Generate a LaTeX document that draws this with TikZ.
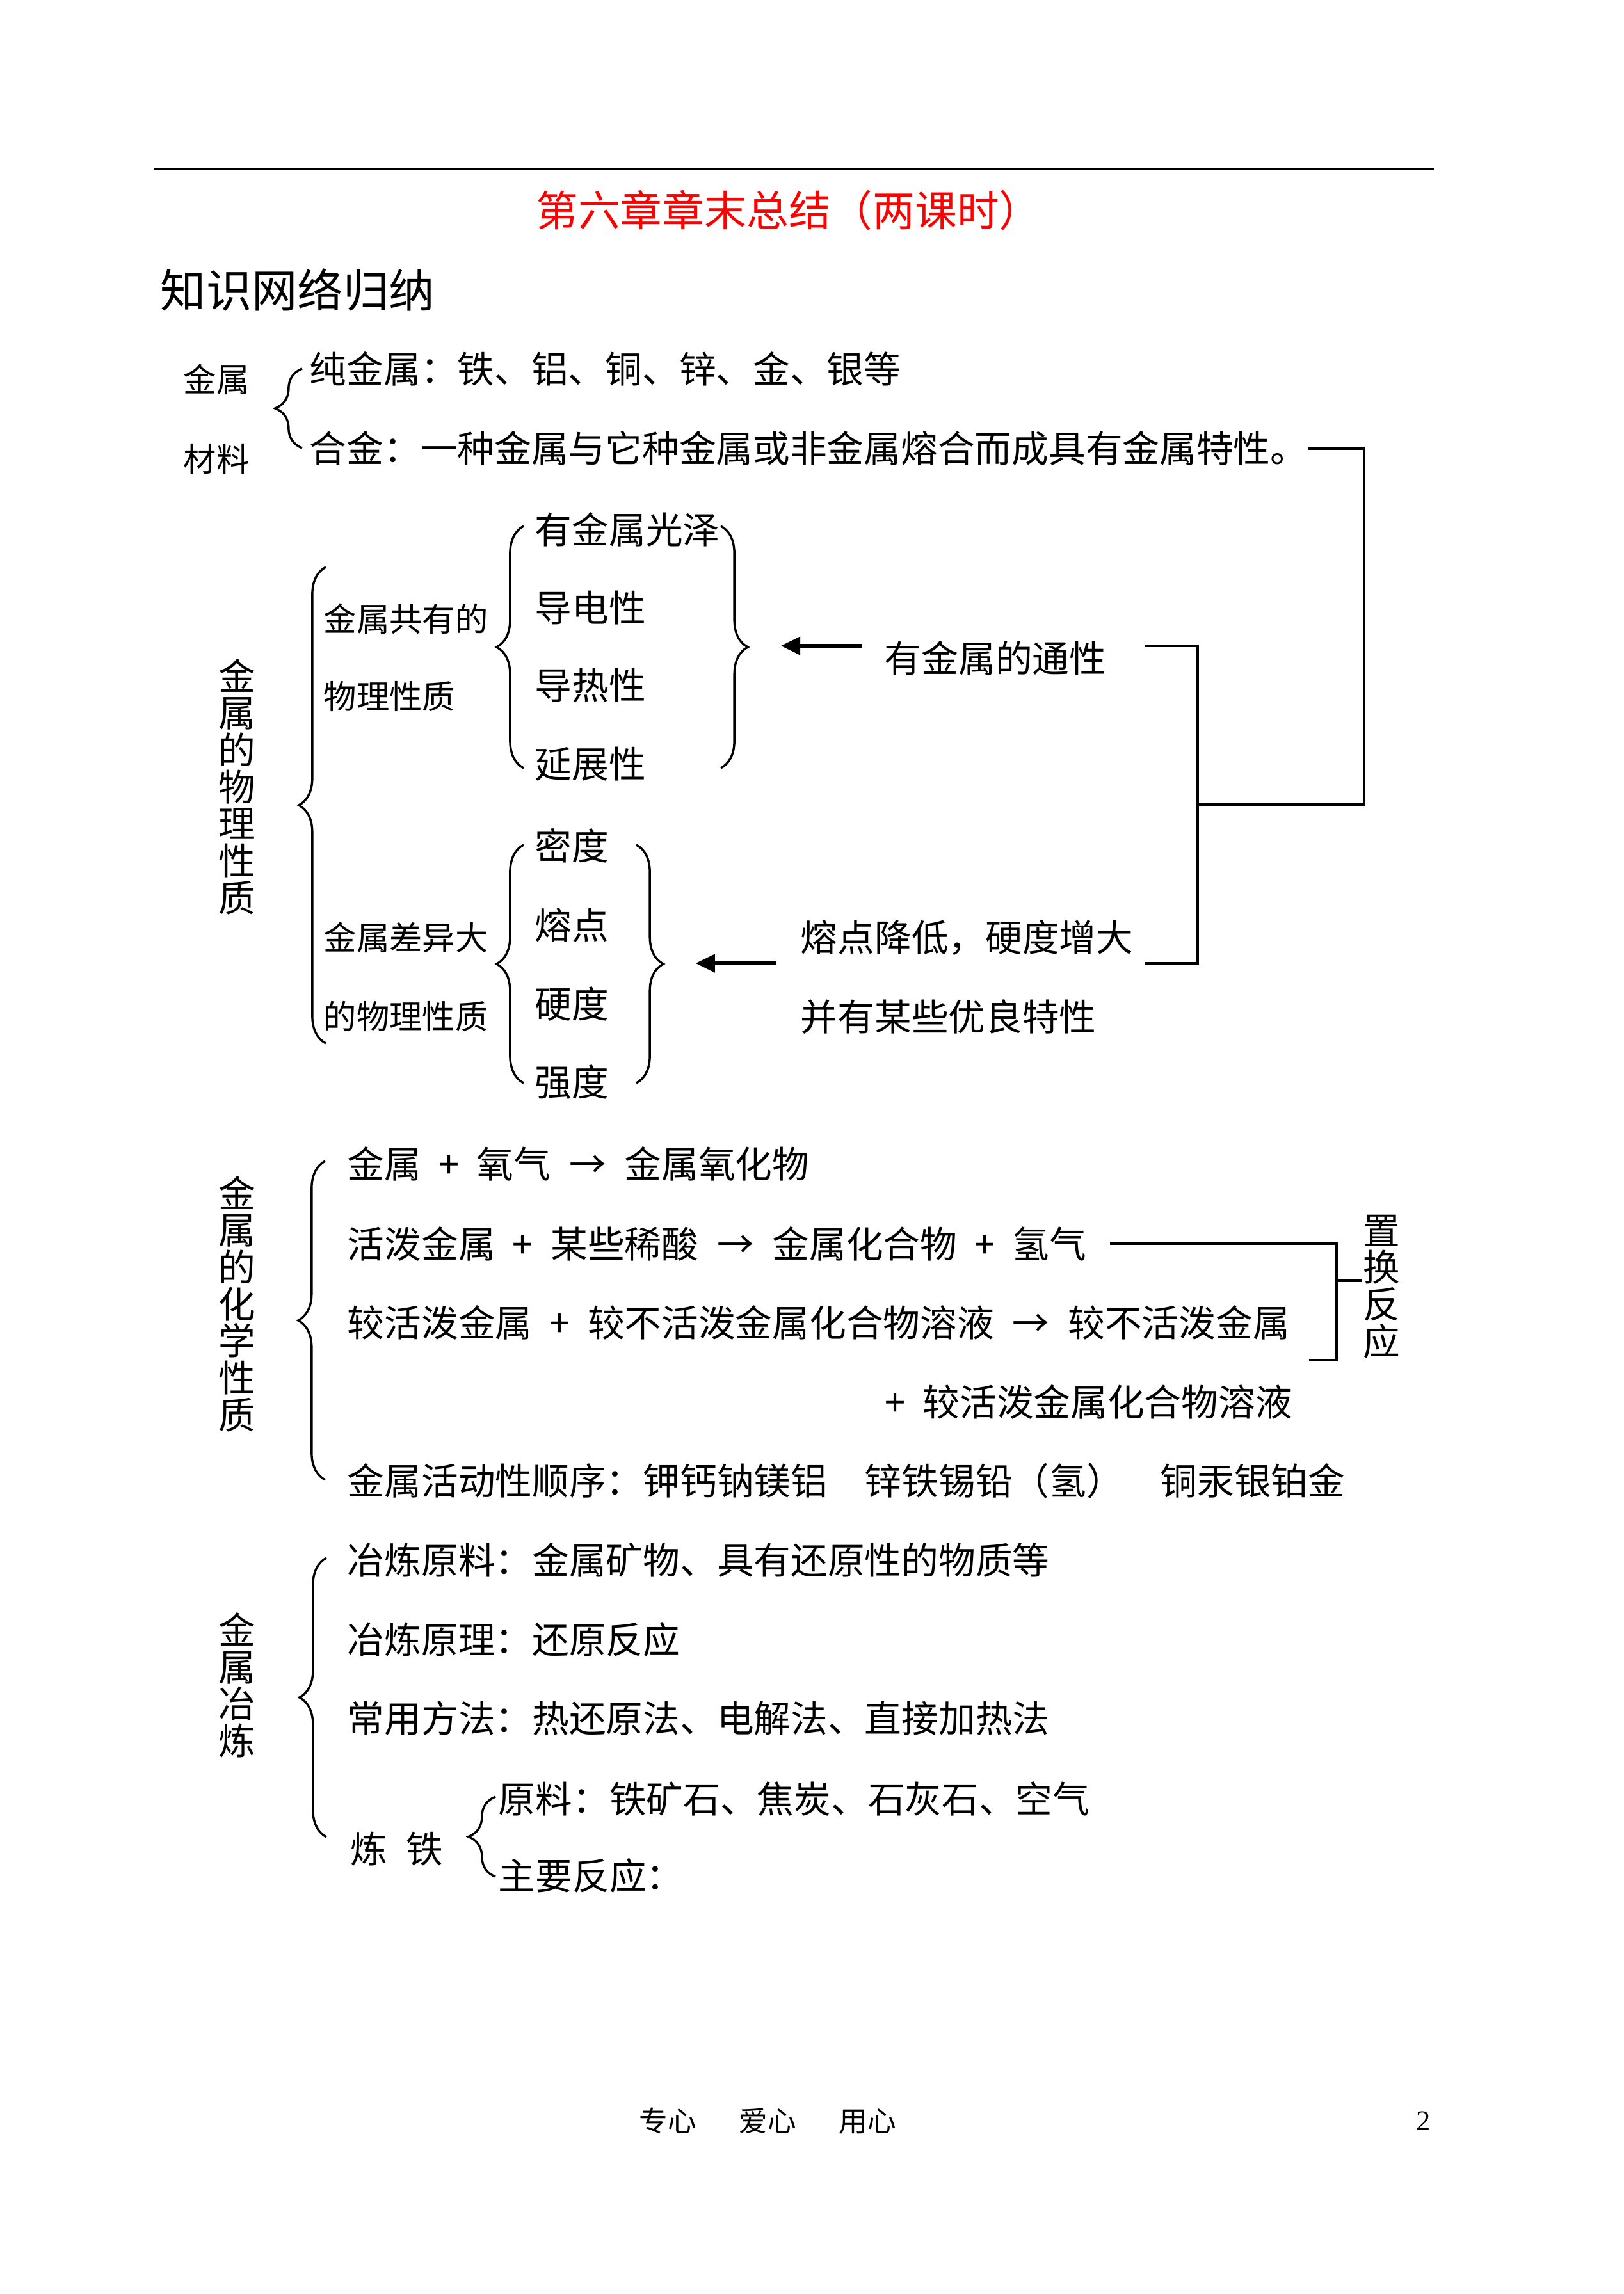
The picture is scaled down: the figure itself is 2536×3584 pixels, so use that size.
\documentclass[tikz,border=0pt]{standalone}
\usepackage{fontspec}
\setmainfont{Noto Sans CJK SC}
\newfontfamily\numfont{Liberation Serif}
\usepackage{tikz}
\usetikzlibrary{positioning,arrows.meta,decorations.pathreplacing}
\definecolor{ttlred}{HTML}{FF0000}
\newcommand{\pls}{\makebox[1.5em]{+}}
\newcommand{\yld}{\makebox[2em]{→}}
\tikzset{
  txt/.style = {anchor=west, inner sep=0pt, font=\fontsize{13.6}{16}\selectfont},
  txs/.style = {txt, font=\fontsize{12.1}{14}\selectfont},
  vtx/.style = {inner sep=0pt, align=center, font=\fontsize{13.6}{13.6}\selectfont},
  ttl/.style = {inner sep=0pt, text=ttlred, font=\fontsize{15.5}{18}\selectfont},
  hr/.style  = {line width=0.7pt},
  ln/.style  = {line width=0.8pt},
  lnb/.style = {line width=1.1pt},
  brc/.style = {decorate, decoration={brace, amplitude=3.5mm}, line width=0.8pt},
  arw/.style = {-{Triangle[length=2.5mm,width=2.3mm]}, line width=1.3pt},
}

\begin{document}
\begin{tikzpicture}[x=0.08281mm, y=-0.08281mm]
\fill[white] (0,0) rectangle (2536,3584);
\useasboundingbox (0,0) rectangle (2536,3584);

% page head
\draw[hr] (240,264) -- (2240,264);
\node[ttl] (title) at (1232,329) {第六章章末总结（两课时）};
\node[txt, font=\fontsize{16.8}{20}\selectfont] (head) at (250,453) {知识网络归纳};

% metal materials
\node[txs] (mat1) at (286,593) {金属};
\node[txs] (mat2) at (286,717) {材料};
\node[txt] (pure)  at (483,576) {纯金属：铁、铝、铜、锌、金、银等};
\node[txt] (alloy) at (483,701) {合金：一种金属与它种金属或非金属熔合而成具有金属特性。};
\draw[brc] (472,700) -- (472,576);

% physical properties
\node[vtx] (phys) at (370,1229) {金\\属\\的\\物\\理\\性\\质};
\draw[brc] (509,1630) -- (509,886);
\node[txs] (comm1) at (505,967)  {金属共有的};
\node[txs] (comm2) at (505,1088) {物理性质};
\node[txs] (diff1) at (505,1465) {金属差异大};
\node[txs] (diff2) at (505,1588) {的物理性质};

\foreach \w/\y [count=\i] in {有金属光泽/827, 导电性/950, 导热性/1071, 延展性/1194}
  \node[txt] (pc\i) at (835,\y) {\w};
\foreach \w/\y [count=\i] in {密度/1321, 熔点/1445, 硬度/1568, 强度/1691}
  \node[txt] (pd\i) at (835,\y) {\w};

\draw[brc] (818,1200) -- (818,822);
\draw[brc] (1126,822) -- (1126,1200);
\draw[brc] (818,1692) -- (818,1320);
\draw[brc] (994,1320) -- (994,1692);
\coordinate (tipA) at (1168,1009);
\coordinate (tipB) at (1036,1505);

\node[txt] (common) at (1381,1028) {有金属的通性};
\node[txt] (alw1)   at (1250,1465) {熔点降低，硬度增大};
\node[txt] (alw2)   at (1250,1588) {并有某些优良特性};

\draw[arw] ([shift={(-34,-19)}]common.west) -- ([xshift=4.3mm]tipA);
\draw[arw] ([shift={(-37,40)}]alw1.west) -- ([xshift=4.2mm]tipB);

% right hand connectors
\coordinate (jv1) at (1871,1009);
\coordinate (jv2) at (1871,1505);
\coordinate (jm)  at (1871,1257);
\coordinate (jr)  at (2131,1257);
\draw[ln] (alloy.east) -| (jr) -- (jm);
\draw[ln] ([shift={(59,-19)}]common.east) -- (jv1) -- (jv2) -- ([shift={(17,40)}]alw1.east);

% chemical properties
\node[vtx] (chem) at (370,2037) {金\\属\\的\\化\\学\\性\\质};
\draw[brc] (508,2312) -- (508,1814);
\node[txt] (cr1) at (542,1818) {金属\pls 氧气\yld 金属氧化物};
\node[txt] (cr2) at (542,1943) {活泼金属\pls 某些稀酸\yld 金属化合物\pls 氢气};
\node[txt] (cr3) at (542,2066) {较活泼金属\pls 较不活泼金属化合物溶液\yld 较不活泼金属};
\node[txt] (cr4) at (1383,2190) {\makebox[.5em]{+}\hspace{.5em}较活泼金属化合物溶液};
\node[txt] (cr5) at (542,2314) {金属活动性顺序：钾钙钠镁铝　锌铁锡铅（氢）　铜汞银铂金};

\node[vtx] (swap) at (2158,2010) {置\\换\\反\\应};
\coordinate (zb)  at (2088,2125);
\coordinate (zbe) at (2045,2125);
\coordinate (zm)  at (2088,2001);
\draw[lnb] ([xshift=3mm]cr2.east) -| (zb) -- (zbe);
\draw[lnb] (zm) -- (zm -| swap.west);

% metallurgy
\node[vtx] (smelt) at (370,2633) {金\\属\\冶\\炼};
\draw[brc] (510,2870) -- (510,2434);
\node[txt] (sm1) at (542,2437) {冶炼原料：金属矿物、具有还原性的物质等};
\node[txt] (sm2) at (542,2562) {冶炼原理：还原反应};
\node[txt] (sm3) at (542,2685) {常用方法：热还原法、电解法、直接加热法};
\node[txt] (iron) at (547,2889) {炼\hspace{.5em}铁};
\draw[brc] (774,2932) -- (774,2807);
\node[txt] (ir1) at (778,2810) {原料：铁矿石、焦炭、石灰石、空气};
\node[txt] (ir2) at (778,2931) {主要反应：};

% page foot
\node[txt, font=\fontsize{10.5}{12}\selectfont] (foot) at (998,3314) {专心\hspace{1.5em}爱心\hspace{1.5em}用心};
\node[txt, font=\numfont\fontsize{10.5}{12}\selectfont] (pg) at (2212,3314) {2};

\end{tikzpicture}
\end{document}
